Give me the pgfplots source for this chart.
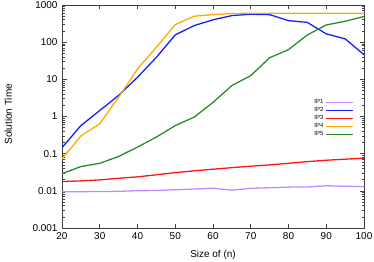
\documentclass[border=0pt]{standalone}
\usepackage{pgfplots}
\pgfplotsset{compat=1.18}
\usepackage{fontspec}
\setmainfont{Liberation Sans}
\definecolor{cIPa}{RGB}{190,140,255}
\definecolor{cIPb}{RGB}{20,30,255}
\definecolor{cIPc}{RGB}{255,20,20}
\definecolor{cIPd}{RGB}{255,170,0}
\definecolor{cIPe}{RGB}{40,140,40}
\begin{document}
\begin{tikzpicture}[x=1bp,y=1bp]
\begin{axis}[
  scale only axis,
  width=302bp, height=223bp,
  xmin=20, xmax=100,
  ymode=log, ymin=0.001, ymax=1000,
  xtick={20,30,...,100},
  ytick={0.001,0.01,0.1,1,10,100,1000},
  yticklabels={0.001,0.01,0.1,1,10,100,1000},
  log ticks with fixed point,
  tick align=inside,
  axis line style={black!75, line width=0.8pt},
  tick style={black!75, line width=0.6pt},
  major tick length=4.5bp, minor tick length=2.5bp,
  ticklabel style={font=\fontsize{10}{12}\selectfont},
  /pgf/number format/assume math mode=true,
  xticklabel style={yshift=-1bp},
  yticklabel style={xshift=-1bp},
  xlabel={Size of (n)}, ylabel={Solution Time},
  label style={font=\fontsize{10.5}{12}\selectfont},
  every axis x label/.style={at={(axis description cs:0.5,-0.085)}, anchor=north},
  every axis y label/.style={at={(axis description cs:-0.154,0.51)}, rotate=90, anchor=south},
  legend style={draw=none, fill=none, at={(0.97,0.59)}, anchor=north east,
    font=\fontsize{6}{7}\selectfont, row sep=-1.6bp, inner sep=1bp},
  legend cell align=right,
  legend plot pos=right,
  legend image code/.code={\draw[#1] (0bp,0bp) -- (27bp,0bp);},
  every axis plot/.append style={line width=1.3pt},
]
\addplot[cIPa] coordinates {(20,0.0094)(25,0.0095)(30,0.0096)(35,0.0097)(40,0.0101)(45,0.0102)(50,0.0107)(55,0.0112)(60,0.0118)(65,0.0104)(70,0.0117)(75,0.0121)(80,0.0126)(85,0.0127)(90,0.0137)(95,0.0133)(100,0.013)};
\addlegendentry{IP1}
\addplot[cIPb] coordinates {(20,0.145)(25,0.57)(30,1.45)(35,3.7)(40,11.4)(45,39)(50,157)(55,279)(60,400)(65,519)(70,565)(75,550)(80,380)(85,340)(90,167)(95,123)(100,46)};
\addlegendentry{IP2}
\addplot[cIPc] coordinates {(20,0.0178)(25,0.0185)(30,0.0197)(35,0.0218)(40,0.0238)(45,0.027)(50,0.031)(55,0.0345)(60,0.0383)(65,0.042)(70,0.046)(75,0.05)(80,0.055)(85,0.061)(90,0.0667)(95,0.071)(100,0.0757)};
\addlegendentry{IP3}
\addplot[cIPd] coordinates {(20,0.072)(25,0.30)(30,0.64)(35,3.3)(40,19)(45,73)(50,297)(55,500)(60,550)(65,590)(70,600)(75,600)(80,600)(85,600)(90,600)(95,600)(100,600)};
\addlegendentry{IP4}
\addplot[cIPe] coordinates {(20,0.029)(25,0.045)(30,0.055)(35,0.084)(40,0.15)(45,0.28)(50,0.57)(55,0.96)(60,2.4)(65,6.8)(70,12.6)(75,38)(80,63)(85,157)(90,290)(95,365)(100,490)};
\addlegendentry{IP5}
\end{axis}
\pgfresetboundingbox
\path (current axis.south west) ++(-62bp,-33bp) coordinate (bbA);
\path (current axis.north east) ++(10bp,5bp) coordinate (bbB);
\useasboundingbox (bbA) rectangle (bbB);
\end{tikzpicture}
\end{document}
